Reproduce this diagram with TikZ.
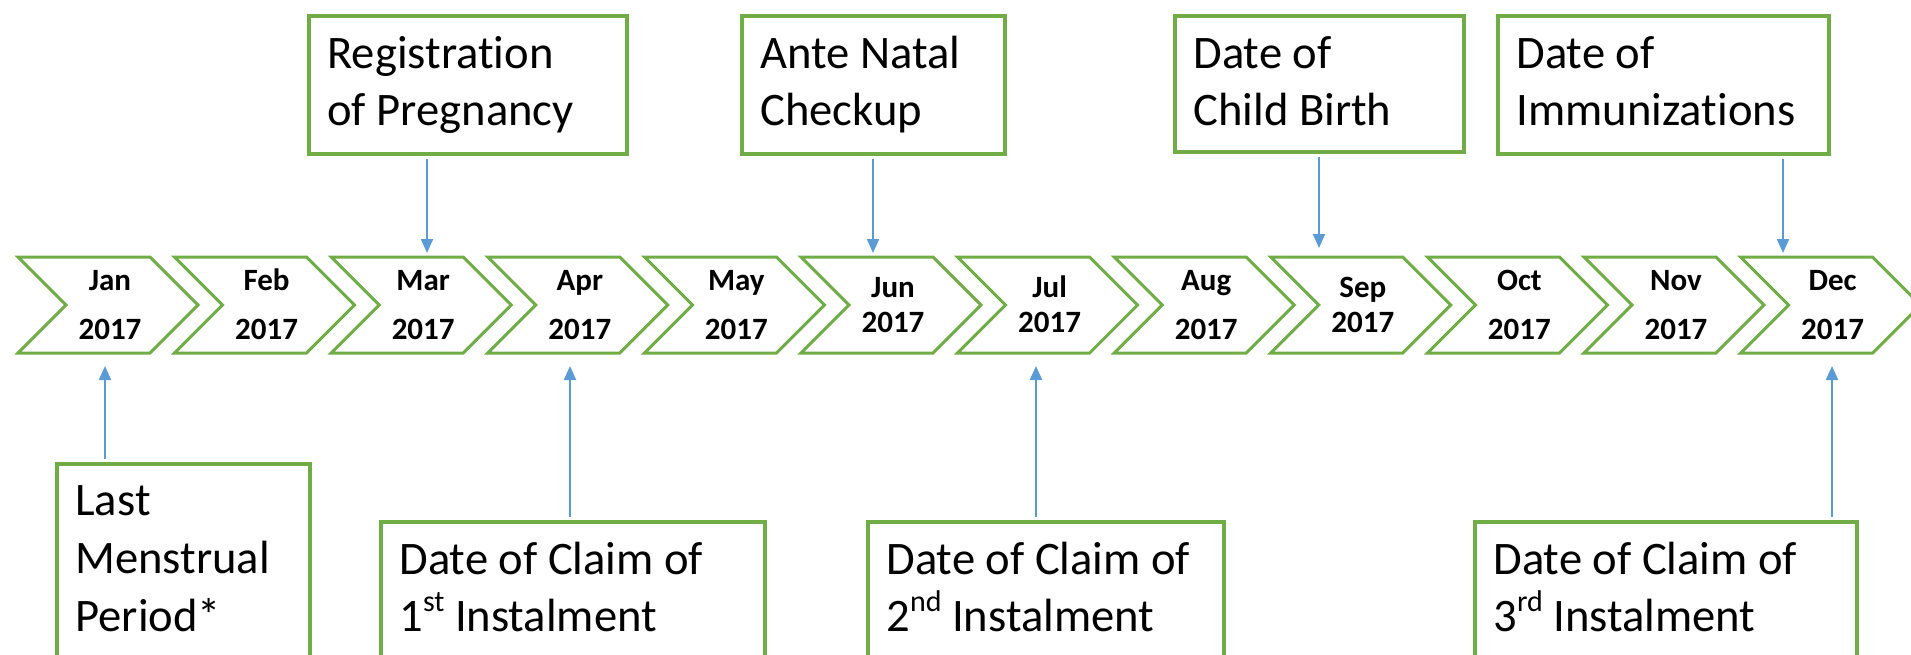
\documentclass[tikz,border=0pt]{standalone}
\usepackage{fontspec}
\setmainfont{Carlito}[Ligatures={NoCommon}]
\usetikzlibrary{arrows.meta}
\definecolor{grn}{HTML}{70AD47}
\definecolor{blu}{HTML}{5B9BD5}
\newcommand{\supx}[1]{\raisebox{0.42em}{\fontsize{15}{15}\selectfont #1}}
\begin{document}
\begin{tikzpicture}[x=0.5pt,y=-0.5pt,
  chev/.style={draw=grn,line width=1.5pt,fill=white,line join=miter},
  evbox/.style={draw=grn,line width=2pt,fill=white,rectangle,inner sep=0pt,anchor=north west},
  mon/.style={font=\fontsize{15.5}{18}\selectfont\bfseries,anchor=base,inner sep=0pt},
  lbl/.style={font=\fontsize{23.3}{28.5}\selectfont,anchor=base west,inner sep=0pt},
  arr/.style={draw=blu,line width=1pt,-{Triangle[width=6pt,length=7pt]}}]

\useasboundingbox (0,0) rectangle (1911,654);

% timeline chevrons
\foreach \i/\m/\ya/\yb in {0/Jan/290/339, 1/Feb/290/339, 2/Mar/290/339, 3/Apr/290/339,
  4/May/290/339, 5/Jun/297/332, 6/Jul/297/332, 7/Aug/290/339, 8/Sep/297/332,
  9/Oct/290/339, 10/Nov/290/339, 11/Dec/290/339} {
  \pgfmathsetmacro\L{18+156.6*\i}
  \draw[chev] (\L,257) -- ++(132,0) -- ++(48,48) -- ++(-48,48) -- ++(-132,0) -- ++(48,-48) -- cycle;
  \node[mon] (m\i) at (\L+92,\ya) {\m};
  \node[mon] (y\i) at (\L+92,\yb) {2017};
}

% top event boxes
\node[evbox,minimum width=159pt,minimum height=69pt] (reg) at (307,14) {};
\node[lbl] (reg1) at (327,68) {Registration};
\node[lbl] (reg2) at (327,125) {of Pregnancy};

\node[evbox,minimum width=131.5pt,minimum height=69pt] (anc) at (740,14) {};
\node[lbl] (anc1) at (760,68) {Ante Natal};
\node[lbl] (anc2) at (760,125) {Checkup};

\node[evbox,minimum width=144.5pt,minimum height=68pt] (cb) at (1173,14) {};
\node[lbl] (cb1) at (1193,68) {Date of};
\node[lbl] (cb2) at (1193,125) {Child Birth};

\node[evbox,minimum width=165.5pt,minimum height=69pt] (imm) at (1496,14) {};
\node[lbl] (imm1) at (1516,68) {Date of};
\node[lbl] (imm2) at (1516,125) {Immunizations};

% bottom event boxes
\node[evbox,minimum width=126.5pt,minimum height=110pt] (lmp) at (55,462) {};
\node[lbl] (lmp1) at (75,515) {Last};
\node[lbl] (lmp2) at (75,573) {Menstrual};
\node[lbl] (lmp3) at (75,631) {Period*};

\node[evbox,minimum width=192pt,minimum height=90pt] (c1) at (379,520) {};
\node[lbl] (c1a) at (399,574) {Date of Claim of};
\node[lbl] (c1b) at (399,631) {1\supx{st} Instalment};

\node[evbox,minimum width=178pt,minimum height=90pt] (c2) at (866,520) {};
\node[lbl] (c2a) at (886,574) {Date of Claim of};
\node[lbl] (c2b) at (886,631) {2\supx{nd} Instalment};

\node[evbox,minimum width=191pt,minimum height=90pt] (c3) at (1473,520) {};
\node[lbl] (c3a) at (1493,574) {Date of Claim of};
\node[lbl] (c3b) at (1493,631) {3\supx{rd} Instalment};

% arrow end points
\coordinate (t3) at (427,253);
\coordinate (t6) at (873,253);
\coordinate (t9) at (1319,248);
\coordinate (t12) at (1783,253);
\coordinate (b1) at (105,366);
\coordinate (b4) at (570,366);
\coordinate (b7) at (1036,366);
\coordinate (b12) at (1832,366);

\draw[arr] ([yshift=-1.5pt]reg.south -| t3) -- (t3);
\draw[arr] ([yshift=-1.5pt]anc.south -| t6) -- (t6);
\draw[arr] ([yshift=-1.5pt]cb.south -| t9) -- (t9);
\draw[arr] ([yshift=-1.5pt]imm.south -| t12) -- (t12);
\draw[arr] ([yshift=1.5pt]lmp.north -| b1) -- (b1);
\draw[arr] ([yshift=1.5pt]c1.north -| b4) -- (b4);
\draw[arr] ([yshift=1.5pt]c2.north -| b7) -- (b7);
\draw[arr] ([yshift=1.5pt]c3.north -| b12) -- (b12);
\end{tikzpicture}
\end{document}
